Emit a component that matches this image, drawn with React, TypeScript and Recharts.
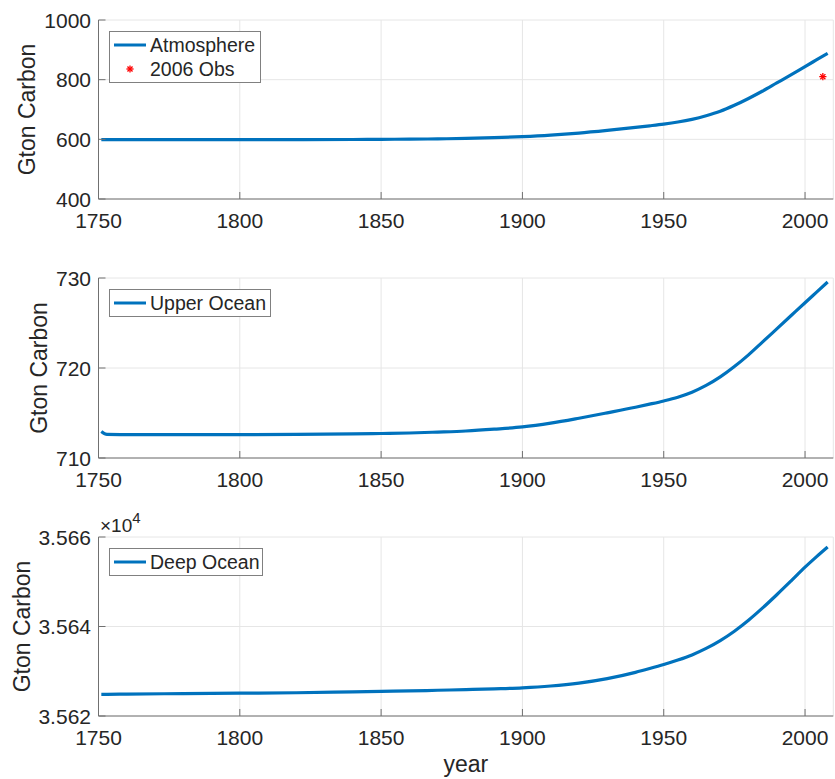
import React from 'react';
import { ComposedChart, Line, Scatter, XAxis, YAxis, CartesianGrid, Legend } from 'recharts';

const years = [1751, 1753, 1760, 1780, 1800, 1820, 1840, 1850, 1860, 1870, 1880, 1890, 1900, 1910, 1920, 1930, 1940, 1945, 1950, 1955, 1960, 1965, 1970, 1975, 1980, 1985, 1990, 1995, 2000, 2004, 2008];
const atmosphere = [599, 599, 599, 599, 599, 599, 599.5, 600, 600.5, 601.5, 603, 605.5, 609, 614, 621, 630, 640, 645.3, 651, 658, 667, 679, 694, 714, 737, 762, 789, 816, 844, 866, 888];
const upperOcean = [712.95, 712.62, 712.6, 712.6, 712.6, 712.62, 712.68, 712.72, 712.78, 712.88, 713.0, 713.2, 713.45, 713.87, 714.42, 715.02, 715.64, 715.98, 716.34, 716.76, 717.31, 718.06, 719.01, 720.16, 721.46, 722.9, 724.35, 725.8, 727.25, 728.4, 729.55];
const deepOcean = [35624.85, 35624.85, 35624.9, 35625.0, 35625.1, 35625.2, 35625.4, 35625.5, 35625.6, 35625.75, 35625.9, 35626.08, 35626.3, 35626.7, 35627.35, 35628.35, 35629.75, 35630.6, 35631.5, 35632.5, 35633.65, 35635.1, 35636.85, 35638.95, 35641.4, 35644.15, 35647.1, 35650.15, 35653.25, 35655.55, 35657.75];
const obsYears = [2006.3];
const obsValues = [810];

const xTicks = [1750, 1800, 1850, 1900, 1950, 2000];
const xDomain = [1750, 2010];
const atmTicks = [400, 600, 800, 1000];
const upperTicks = [710, 720, 730];
const deepTicks = [35620, 35640, 35660];

const seriesNames = ['Atmosphere', '2006 Obs', 'Upper Ocean', 'Deep Ocean'];
const yTitle = 'Gton Carbon';
const xTitle = 'year';

const FONT = '"Liberation Sans", Arial, Helvetica, sans-serif';
const BLUE = '#0072BD';
const RED = '#ff0000';
const AXIS = '#707070';
const TEXT = '#262626';
const GRID = '#e6e6e6';
const EDGE = '#808080';

const rows = (vals: number[]) => years.map((y, i) => ({ year: y, value: vals[i] }));
const atmRows = rows(atmosphere);
const upperRows = rows(upperOcean);
const deepRows = rows(deepOcean);
const obsRows = obsYears.map((y, i) => ({ year: y, value: obsValues[i] }));

const XTick = (props: any) => {
  const { x, y, payload } = props;
  return (
    <g>
      <line x1={x} x2={x} y1={y} y2={y - 7} stroke={AXIS} strokeWidth={1} />
      <text x={x} y={y + 28.5} textAnchor="middle" fill={TEXT} fontSize={21} fontFamily={FONT}>
        {payload.value}
      </text>
    </g>
  );
};

const makeYTick = (fmt: (v: number) => string) => (props: any) => {
  const { x, y, payload } = props;
  return (
    <g>
      <line x1={x} x2={x + 7} y1={y} y2={y} stroke={AXIS} strokeWidth={1} />
      <text x={x - 7.5} y={y} dy="0.36em" textAnchor="end" fill={TEXT} fontSize={21} fontFamily={FONT}>
        {fmt(payload.value)}
      </text>
    </g>
  );
};

const Asterisk = (props: any) => {
  const { cx, cy } = props;
  const r = 3.6;
  const d = r * 0.7071;
  return (
    <g stroke={RED} strokeWidth={1.3}>
      <line x1={cx - r} x2={cx + r} y1={cy} y2={cy} />
      <line x1={cx} x2={cx} y1={cy - r} y2={cy + r} />
      <line x1={cx - d} x2={cx + d} y1={cy - d} y2={cy + d} />
      <line x1={cx - d} x2={cx + d} y1={cy + d} y2={cy - d} />
    </g>
  );
};

type Item = { name: string; kind: 'line' | 'star' };

const LegendBox = ({ items, width }: { items: Item[]; width: number }) => {
  const h = items.length * 24 + 2;
  return (
    <div style={{ width, height: h + 2, border: `1px solid ${EDGE}`, background: '#fff', boxSizing: 'border-box' as const }}>
      <svg width={width - 2} height={h} style={{ display: 'block' }}>
        {items.map((it, i) => {
          const cy = 13 + 24 * i;
          return (
            <g key={it.name}>
              {it.kind === 'line' ? (
                <line x1={4} x2={36} y1={cy} y2={cy} stroke={BLUE} strokeWidth={3} />
              ) : (
                <Asterisk cx={20} cy={cy} />
              )}
              <text x={40} y={cy} dy="0.36em" fill={TEXT} fontSize={19.5} fontFamily={FONT}>
                {it.name}
              </text>
            </g>
          );
        })}
      </svg>
    </div>
  );
};

const YTitle = (baseX: number, extra?: boolean) => (props: any) => {
  const vb = props.viewBox || {};
  const cy = (vb.y ?? 0) + (vb.height ?? 0) / 2;
  return (
    <g>
      <text
        x={baseX}
        y={cy}
        transform={`rotate(-90, ${baseX}, ${cy})`}
        textAnchor="middle"
        fill={TEXT}
        fontSize={23}
        fontFamily={FONT}
      >
        {yTitle}
      </text>
      {extra ? (
        <text x={100} y={(vb.y ?? 0) - 4.7} fill={TEXT} fontSize={19} fontFamily={FONT}>
          ×10
          <tspan dy={-9} fontSize={15}>4</tspan>
        </text>
      ) : null}
    </g>
  );
};

const XTitle = (props: any) => {
  const vb = props.viewBox || {};
  const cx = (vb.x ?? 0) + (vb.width ?? 0) / 2;
  return (
    <text x={cx} y={(vb.y ?? 0) + 56} textAnchor="middle" fill={TEXT} fontSize={23} fontFamily={FONT}>
      {xTitle}
    </text>
  );
};

const commonX = (withTitle: boolean, height: number) => (
  <XAxis
    type="number"
    dataKey="year"
    domain={xDomain}
    ticks={xTicks}
    interval={0}
    allowDataOverflow
    height={height}
    tickSize={0}
    tickMargin={0}
    tickLine={false}
    axisLine={{ stroke: AXIS, strokeWidth: 1 }}
    tick={XTick}
    label={withTitle ? XTitle : undefined}
  />
);

export default function App() {
  const W = 835;
  const yW = 98.5;
  return (
    <div style={{ position: 'absolute', left: 0, top: 0, width: W, height: 779, background: '#fff' }}>
      <div style={{ position: 'absolute', left: 0, top: 0 }}>
        <ComposedChart width={W} height={250} margin={{ top: 20, right: 1.7, bottom: 0, left: 0 }}>
          <CartesianGrid stroke={GRID} />
          {commonX(false, 51)}
          <YAxis
            type="number"
            dataKey="value"
            domain={[400, 1000]}
            ticks={atmTicks}
            interval={0}
            width={yW}
            tickSize={0}
            tickMargin={0}
            tickLine={false}
            axisLine={{ stroke: AXIS, strokeWidth: 1 }}
            tick={makeYTick((v) => String(v))}
            label={YTitle(35)}
          />
          <Line data={atmRows} dataKey="value" name={seriesNames[0]} type="monotone" stroke={BLUE} strokeWidth={3.2} dot={false} isAnimationActive={false} />
          <Scatter data={obsRows} dataKey="value" name={seriesNames[1]} fill={RED} shape={Asterisk} isAnimationActive={false} />
          <Legend
            layout="horizontal"
            verticalAlign="middle"
            align="center"
            wrapperStyle={{ left: 109, top: 31, width: 'auto', height: 'auto' }}
            content={() => (
              <LegendBox
                width={152}
                items={[
                  { name: seriesNames[0], kind: 'line' },
                  { name: seriesNames[1], kind: 'star' },
                ]}
              />
            )}
          />
        </ComposedChart>
      </div>
      <div style={{ position: 'absolute', left: 0, top: 250 }}>
        <ComposedChart width={W} height={250} margin={{ top: 28, right: 1.7, bottom: 0, left: 0 }}>
          <CartesianGrid stroke={GRID} />
          {commonX(false, 42)}
          <YAxis
            type="number"
            dataKey="value"
            domain={[710, 730]}
            ticks={upperTicks}
            interval={0}
            width={yW}
            tickSize={0}
            tickMargin={0}
            tickLine={false}
            axisLine={{ stroke: AXIS, strokeWidth: 1 }}
            tick={makeYTick((v) => String(v))}
            label={YTitle(47)}
          />
          <Line data={upperRows} dataKey="value" name={seriesNames[2]} type="monotone" stroke={BLUE} strokeWidth={3.2} dot={false} isAnimationActive={false} />
          <Legend
            layout="horizontal"
            verticalAlign="middle"
            align="center"
            wrapperStyle={{ left: 109, top: 39, width: 'auto', height: 'auto' }}
            content={() => <LegendBox width={162} items={[{ name: seriesNames[2], kind: 'line' }]} />}
          />
        </ComposedChart>
      </div>
      <div style={{ position: 'absolute', left: 0, top: 500 }}>
        <ComposedChart width={W} height={279} margin={{ top: 37, right: 1.7, bottom: 0, left: 0 }}>
          <CartesianGrid stroke={GRID} />
          {commonX(true, 63)}
          <YAxis
            type="number"
            dataKey="value"
            domain={[35620, 35660]}
            ticks={deepTicks}
            interval={0}
            width={yW}
            tickSize={0}
            tickMargin={0}
            tickLine={false}
            axisLine={{ stroke: AXIS, strokeWidth: 1 }}
            tick={makeYTick((v) => (v / 1e4).toFixed(3))}
            label={YTitle(30, true)}
          />
          <Line data={deepRows} dataKey="value" name={seriesNames[3]} type="monotone" stroke={BLUE} strokeWidth={3.2} dot={false} isAnimationActive={false} />
          <Legend
            layout="horizontal"
            verticalAlign="middle"
            align="center"
            wrapperStyle={{ left: 109, top: 48, width: 'auto', height: 'auto' }}
            content={() => <LegendBox width={154} items={[{ name: seriesNames[3], kind: 'line' }]} />}
          />
        </ComposedChart>
      </div>
    </div>
  );
}
